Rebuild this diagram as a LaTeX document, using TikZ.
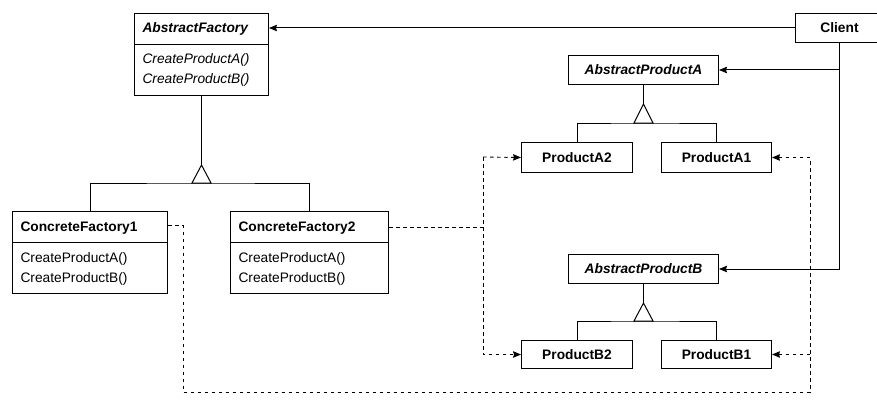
\documentclass[tikz,border=0pt]{standalone}
\usepackage{fontspec}
\setmainfont{Liberation Sans}
\usepackage{tikz}
\usetikzlibrary{arrows.meta,shapes.multipart}

\begin{document}
\begin{tikzpicture}[x=1pt,y=-1pt,>={Stealth[length=8pt,width=6.5pt,inset=1pt]},line width=1pt]
		\tikzstyle{every node}=[font=\fontsize{13.75}{20}\selectfont]
		\tikzstyle{class}=[rectangle split, rectangle split parts=2, draw=black, anchor=north west, align=left, inner xsep=8pt, inner ysep=5pt]
		\tikzstyle{box}=[rectangle, draw=black, anchor=north west, minimum height=29pt, inner sep=0pt, font=\fontsize{13.75}{20}\selectfont\bfseries]
		\tikzstyle{dep}=[line width=0.9pt, dash pattern=on 3.5pt off 3.5pt]
		\tikzstyle{inherit}=[fill=white]

		\useasboundingbox (0,0) rectangle (877,401);

		\node [class, text width=118pt] (af) at (134,13) {\strut\bfseries\itshape AbstractFactory
			\nodepart{two}\itshape\strut CreateProductA()\\\strut CreateProductB()};
		\node [class, text width=139pt] (cf1) at (12,211) {\strut\bfseries ConcreteFactory1
			\nodepart{two}\strut CreateProductA()\\\strut CreateProductB()};
		\node [class, text width=142pt] (cf2) at (230,211) {\strut\bfseries ConcreteFactory2
			\nodepart{two}\strut CreateProductA()\\\strut CreateProductB()};
		\node [box, minimum width=88pt] (client) at (795,13) {Client};

		\node [box, minimum width=150pt] (apa) at (568,55) {\itshape AbstractProductA};
		\node [box, minimum width=111pt, minimum height=30pt] (pa2) at (521,142) {ProductA2};
		\node [box, minimum width=110pt, minimum height=30pt] (pa1) at (661,142) {ProductA1};
		\node [box, minimum width=150pt] (apb) at (568,254) {\itshape AbstractProductB};
		\node [box, minimum width=111pt, minimum height=28pt] (pb2) at (521,340) {ProductB2};
		\node [box, minimum width=110pt, minimum height=28pt] (pb1) at (661,340) {ProductB1};

		% inheritance
		\draw (af.south) -- ++(0,69) coordinate (afT);
		\draw (cf1.north) |- ([yshift=-18pt]afT) -| (cf2.north);
		\draw [inherit] (afT) -- ++(-9.5,18) -- ++(19,0) -- cycle;
		\draw (apa.south) -- ++(0,19) coordinate (apaT);
		\draw (pa2.north) |- ([yshift=-19pt]apaT) -| (pa1.north);
		\draw [inherit] (apaT) -- ++(-9.5,19) -- ++(19,0) -- cycle;
		\draw (apb.south) -- ++(0,19) coordinate (apbT);
		\draw (pb2.north) |- ([yshift=-18pt]apbT) -| (pb1.north);
		\draw [inherit] (apbT) -- ++(-9.5,18) -- ++(19,0) -- cycle;

		% client
		\draw [->] (client) -- (client -| af.east);
		\draw [->] (client.south) |- (apb.east);
		\draw [->] (client.south |- apa.east) -- (apa.east);

		% creates
		\coordinate (cf1r) at ([yshift=-14.5pt]cf1.north east);
		\coordinate (cf2r) at ([yshift=-16pt]cf2.north east);
		\coordinate (c1corner) at (183,392);
		\coordinate (c1bus) at (810,392);
		\coordinate (c2top) at (483,157);
		\draw [dep,->] (cf1r) -| (c1corner) -- (c1bus) |- (pa1.east);
		\draw [dep,->] (c1bus |- pb1.east) -- (pb1.east);
		\draw [dep] (cf2r) -- (cf2r -| c2top);
		\draw [dep,->] (c2top) -- (pa2.west);
		\draw [dep,->] (c2top) |- (pb2.west);
	\end{tikzpicture}
\end{document}
